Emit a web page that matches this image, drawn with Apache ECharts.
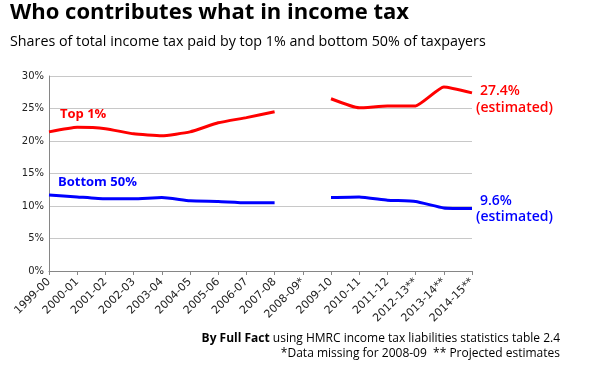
<!DOCTYPE html>
<html>
<head>
<meta charset="utf-8">
<script src="https://cdn.jsdelivr.net/npm/echarts@6/dist/echarts.min.js"></script>
<style>
html,body{margin:0;padding:0;background:#fff;}
#c{width:590px;height:374px;}
</style>
</head>
<body>
<div id="c"></div>
<script>
const categories = ['1999-00','2000-01','2001-02','2002-03','2003-04','2004-05','2005-06','2006-07','2007-08','2008-09*','2009-10','2010-11','2011-12','2012-13**','2013-14**','2014-15**'];
const top1 = [21.4,22.1,21.9,21.1,20.8,21.4,22.8,23.6,24.5,null,26.5,25.1,25.4,25.4,28.3,27.4];
const bottom50 = [11.7,11.4,11.1,11.1,11.3,10.8,10.7,10.5,10.5,null,11.3,11.4,10.9,10.7,9.7,9.6];
const yTicks = [0,5,10,15,20,25,30];

const F = '"Open Sans", sans-serif';
const AX = '"DejaVu Sans", Verdana, sans-serif';
const chart = echarts.init(document.getElementById('c'));
chart.setOption({
  animation: false,
  backgroundColor: '#fff',
  grid: {left: 49, right: 118, top: 76, bottom: 103},
  xAxis: {
    type: 'category', data: categories, boundaryGap: false,
    axisLine: {lineStyle: {color: '#868686'}},
    axisTick: {show: true, length: 4, lineStyle: {color: '#868686'}},
    axisLabel: {rotate: 45, fontFamily: AX, fontSize: 11, color: '#222', margin: 9, interval: 0},
    splitLine: {show: false}
  },
  yAxis: {
    type: 'value', min: yTicks[0], max: yTicks[yTicks.length-1], interval: 5,
    axisLine: {show: true, lineStyle: {color: '#868686'}},
    axisTick: {show: false},
    axisLabel: {formatter: '{value}%', fontFamily: AX, fontSize: 10, color: '#222', margin: 5},
    splitLine: {lineStyle: {color: '#c8c8c8'}}
  },
  series: [
    {type: 'line', name: 'Top 1%', data: top1, connectNulls: false, symbol: 'none', smooth: 0.15,
     lineStyle: {color: '#ff0000', width: 3}},
    {type: 'line', name: 'Bottom 50%', data: bottom50, connectNulls: false, symbol: 'none', smooth: 0.15,
     lineStyle: {color: '#0000ff', width: 3}}
  ],
  graphic: [
    {type: 'text', left: 10, top: 2, style: {text: 'Who contributes what in income tax', font: 'bold 22px ' + F, fill: '#000'}},
    {type: 'text', left: 10, top: 35, style: {text: 'Shares of total income tax paid by top 1% and bottom 50% of taxpayers', font: '14.3px ' + F, fill: '#000'}},
    {type: 'text', left: 60, top: 108, style: {text: 'Top 1%', font: 'bold 13px ' + F, fill: '#ff0000'}},
    {type: 'text', left: 58, top: 176, style: {text: 'Bottom 50%', font: 'bold 13px ' + F, fill: '#0000ff'}},
    {type: 'text', left: 480, top: 84, style: {text: top1[top1.length-1].toFixed(1) + '%', font: '600 14px ' + F, fill: '#ff0000'}},
    {type: 'text', left: 476, top: 101, style: {text: '(estimated)', font: '600 14px ' + F, fill: '#ff0000'}},
    {type: 'text', left: 480, top: 194, style: {text: bottom50[bottom50.length-1].toFixed(1) + '%', font: '600 14px ' + F, fill: '#0000ff'}},
    {type: 'text', left: 476, top: 210, style: {text: '(estimated)', font: '600 14px ' + F, fill: '#0000ff'}},
    {type: 'text', right: 30, top: 333, style: {
      text: '{b|By Full Fact} using HMRC income tax liabilities statistics table 2.4',
      font: '12px ' + F, fill: '#000', rich: {b: {fontWeight: 'bold', fontFamily: F, fontSize: 12}}}},
    {type: 'text', right: 30, top: 348, style: {text: '*Data missing for 2008-09  ** Projected estimates', font: '12px ' + F, fill: '#000'}}
  ]
});
</script>
</body>
</html>
